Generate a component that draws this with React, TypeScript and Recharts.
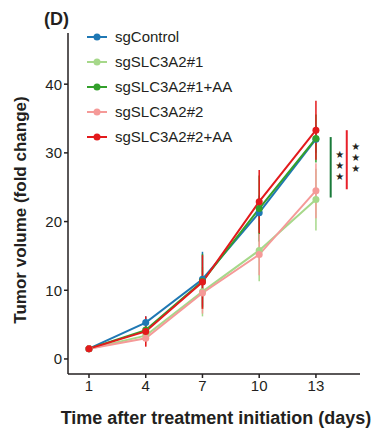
import React from "react";
import { ErrorBar, Line, LineChart, ReferenceLine, XAxis, YAxis } from "recharts";

const days = [1, 4, 7, 10, 13];

const sgControl = [1.5, 5.3, 11.6, 21.3, 32.0];
const sgControlErr = [0.1, 0.9, 4.0, 2.5, 2.0];
const sg1 = [1.5, 3.4, 9.8, 15.8, 23.2];
const sg1Err = [0.1, 1.0, 3.6, 4.5, 4.5];
const sg1AA = [1.5, 4.2, 11.3, 21.9, 32.1];
const sg1AAErr = [0.1, 1.0, 4.0, 4.8, 3.5];
const sg2 = [1.5, 3.0, 9.6, 15.2, 24.5];
const sg2Err = [0.1, 1.2, 3.0, 3.0, 4.0];
const sg2AA = [1.5, 4.0, 11.2, 22.9, 33.3];
const sg2AAErr = [0.1, 2.2, 3.9, 4.6, 4.3];

const xTicks = [1, 4, 7, 10, 13];
const yTicks = [0, 10, 20, 30, 40];

const series = [
  { key: "sgControl", name: "sgControl", values: sgControl, err: sgControlErr, color: "#1f78b4" },
  { key: "sg1", name: "sgSLC3A2#1", values: sg1, err: sg1Err, color: "#a6d88a" },
  { key: "sg1AA", name: "sgSLC3A2#1+AA", values: sg1AA, err: sg1AAErr, color: "#33a02c" },
  { key: "sg2", name: "sgSLC3A2#2", values: sg2, err: sg2Err, color: "#f59a98" },
  { key: "sg2AA", name: "sgSLC3A2#2+AA", values: sg2AA, err: sg2AAErr, color: "#e31a1c" },
];

// significance brackets (x in days units, y from/to)
const sigBars = [
  { x: 13.78, y1: 32.3, y2: 23.5, color: "#1a7a3a" },
  { x: 14.63, y1: 33.3, y2: 24.7, color: "#e8202a" },
];

const data = days.map((d, i) => {
  const row: Record<string, number> = { day: d };
  series.forEach((s) => {
    row[s.key] = s.values[i];
    row[s.key + "Err"] = s.err[i];
  });
  return row;
});

const font = "'Liberation Sans', Arial, sans-serif";

const Stars = (props: any) => {
  const vb = props.viewBox || {};
  const cx = vb.x + 9;
  const cy = vb.y + (vb.height || 0) / 2 - 2;
  return (
    <g>
      {[-11, 0, 11].map((dy) => (
        <text key={dy} x={cx} y={cy + dy} textAnchor="middle" dominantBaseline="central"
              fontSize={10} fill="#231f20" fontFamily="'DejaVu Sans', sans-serif">★</text>
      ))}
    </g>
  );
};

const LegendBox = () => (
  <div style={{ position: "absolute", left: 87, top: 24, fontFamily: font, fontSize: 15, color: "#231f20" }}>
    {series.map((s) => (
      <div key={s.key} style={{ display: "flex", alignItems: "center", height: 25 }}>
        <svg width={28} height={10}>
          <line x1={0} y1={5} x2={20} y2={5} stroke={s.color} strokeWidth={2} />
          <circle cx={10} cy={5} r={3.5} fill={s.color} />
        </svg>
        <span>{s.name}</span>
      </div>
    ))}
  </div>
);

export default function App() {
  return (
    <div style={{ position: "absolute", left: 0, top: 0, width: 371, height: 434, background: "#fff" }}>
      <LineChart width={371} height={434} data={data} margin={{ top: 33, right: 11, left: 0, bottom: 0 }}
                 style={{ position: "absolute", left: 0, top: 0 }}>
        <XAxis dataKey="day" type="number" domain={[-0.11, 15.33]} ticks={xTicks} allowDataOverflow
               height={60} stroke="#231f20" strokeWidth={1.5} tickSize={4}
               tick={{ fontSize: 15, fill: "#231f20", fontFamily: font }} />
        <YAxis type="number" domain={[-2.19, 47.45]} ticks={yTicks} allowDataOverflow width={68}
               stroke="#231f20" strokeWidth={1.5} tickSize={4}
               tick={{ fontSize: 15, fill: "#231f20", fontFamily: font }} />
        {series.map((s) => (
          <Line key={s.key} dataKey={s.key} name={s.name} stroke={s.color} strokeWidth={2}
                dot={{ r: 3.5, fill: s.color, stroke: s.color, strokeWidth: 0 }} activeDot={false}
                isAnimationActive={false}>
            <ErrorBar dataKey={s.key + "Err"} width={0} stroke={s.color} strokeWidth={1.5} />
          </Line>
        ))}
        {sigBars.map((b, i) => (
          <ReferenceLine key={i} segment={[{ x: b.x, y: b.y1 }, { x: b.x, y: b.y2 }]}
                         stroke={b.color} strokeWidth={2} ifOverflow="visible" label={<Stars />} />
        ))}
      </LineChart>
      <div style={{ position: "absolute", left: 44, top: 9, fontFamily: font, fontWeight: "bold", fontSize: 18, color: "#231f20" }}>
        (D)
      </div>
      <div style={{
        position: "absolute", left: 21, top: 210, transform: "translate(-50%, -50%) rotate(-90deg)",
        whiteSpace: "nowrap", fontFamily: font, fontWeight: "bold", fontSize: 17, color: "#231f20",
      }}>
        Tumor volume (fold change)
      </div>
      <div style={{
        position: "absolute", left: 216, top: 418, transform: "translate(-50%, -50%)",
        whiteSpace: "nowrap", fontFamily: font, fontWeight: "bold", fontSize: 18, color: "#231f20",
      }}>
        Time after treatment initiation (days)
      </div>
      <LegendBox />
    </div>
  );
}
